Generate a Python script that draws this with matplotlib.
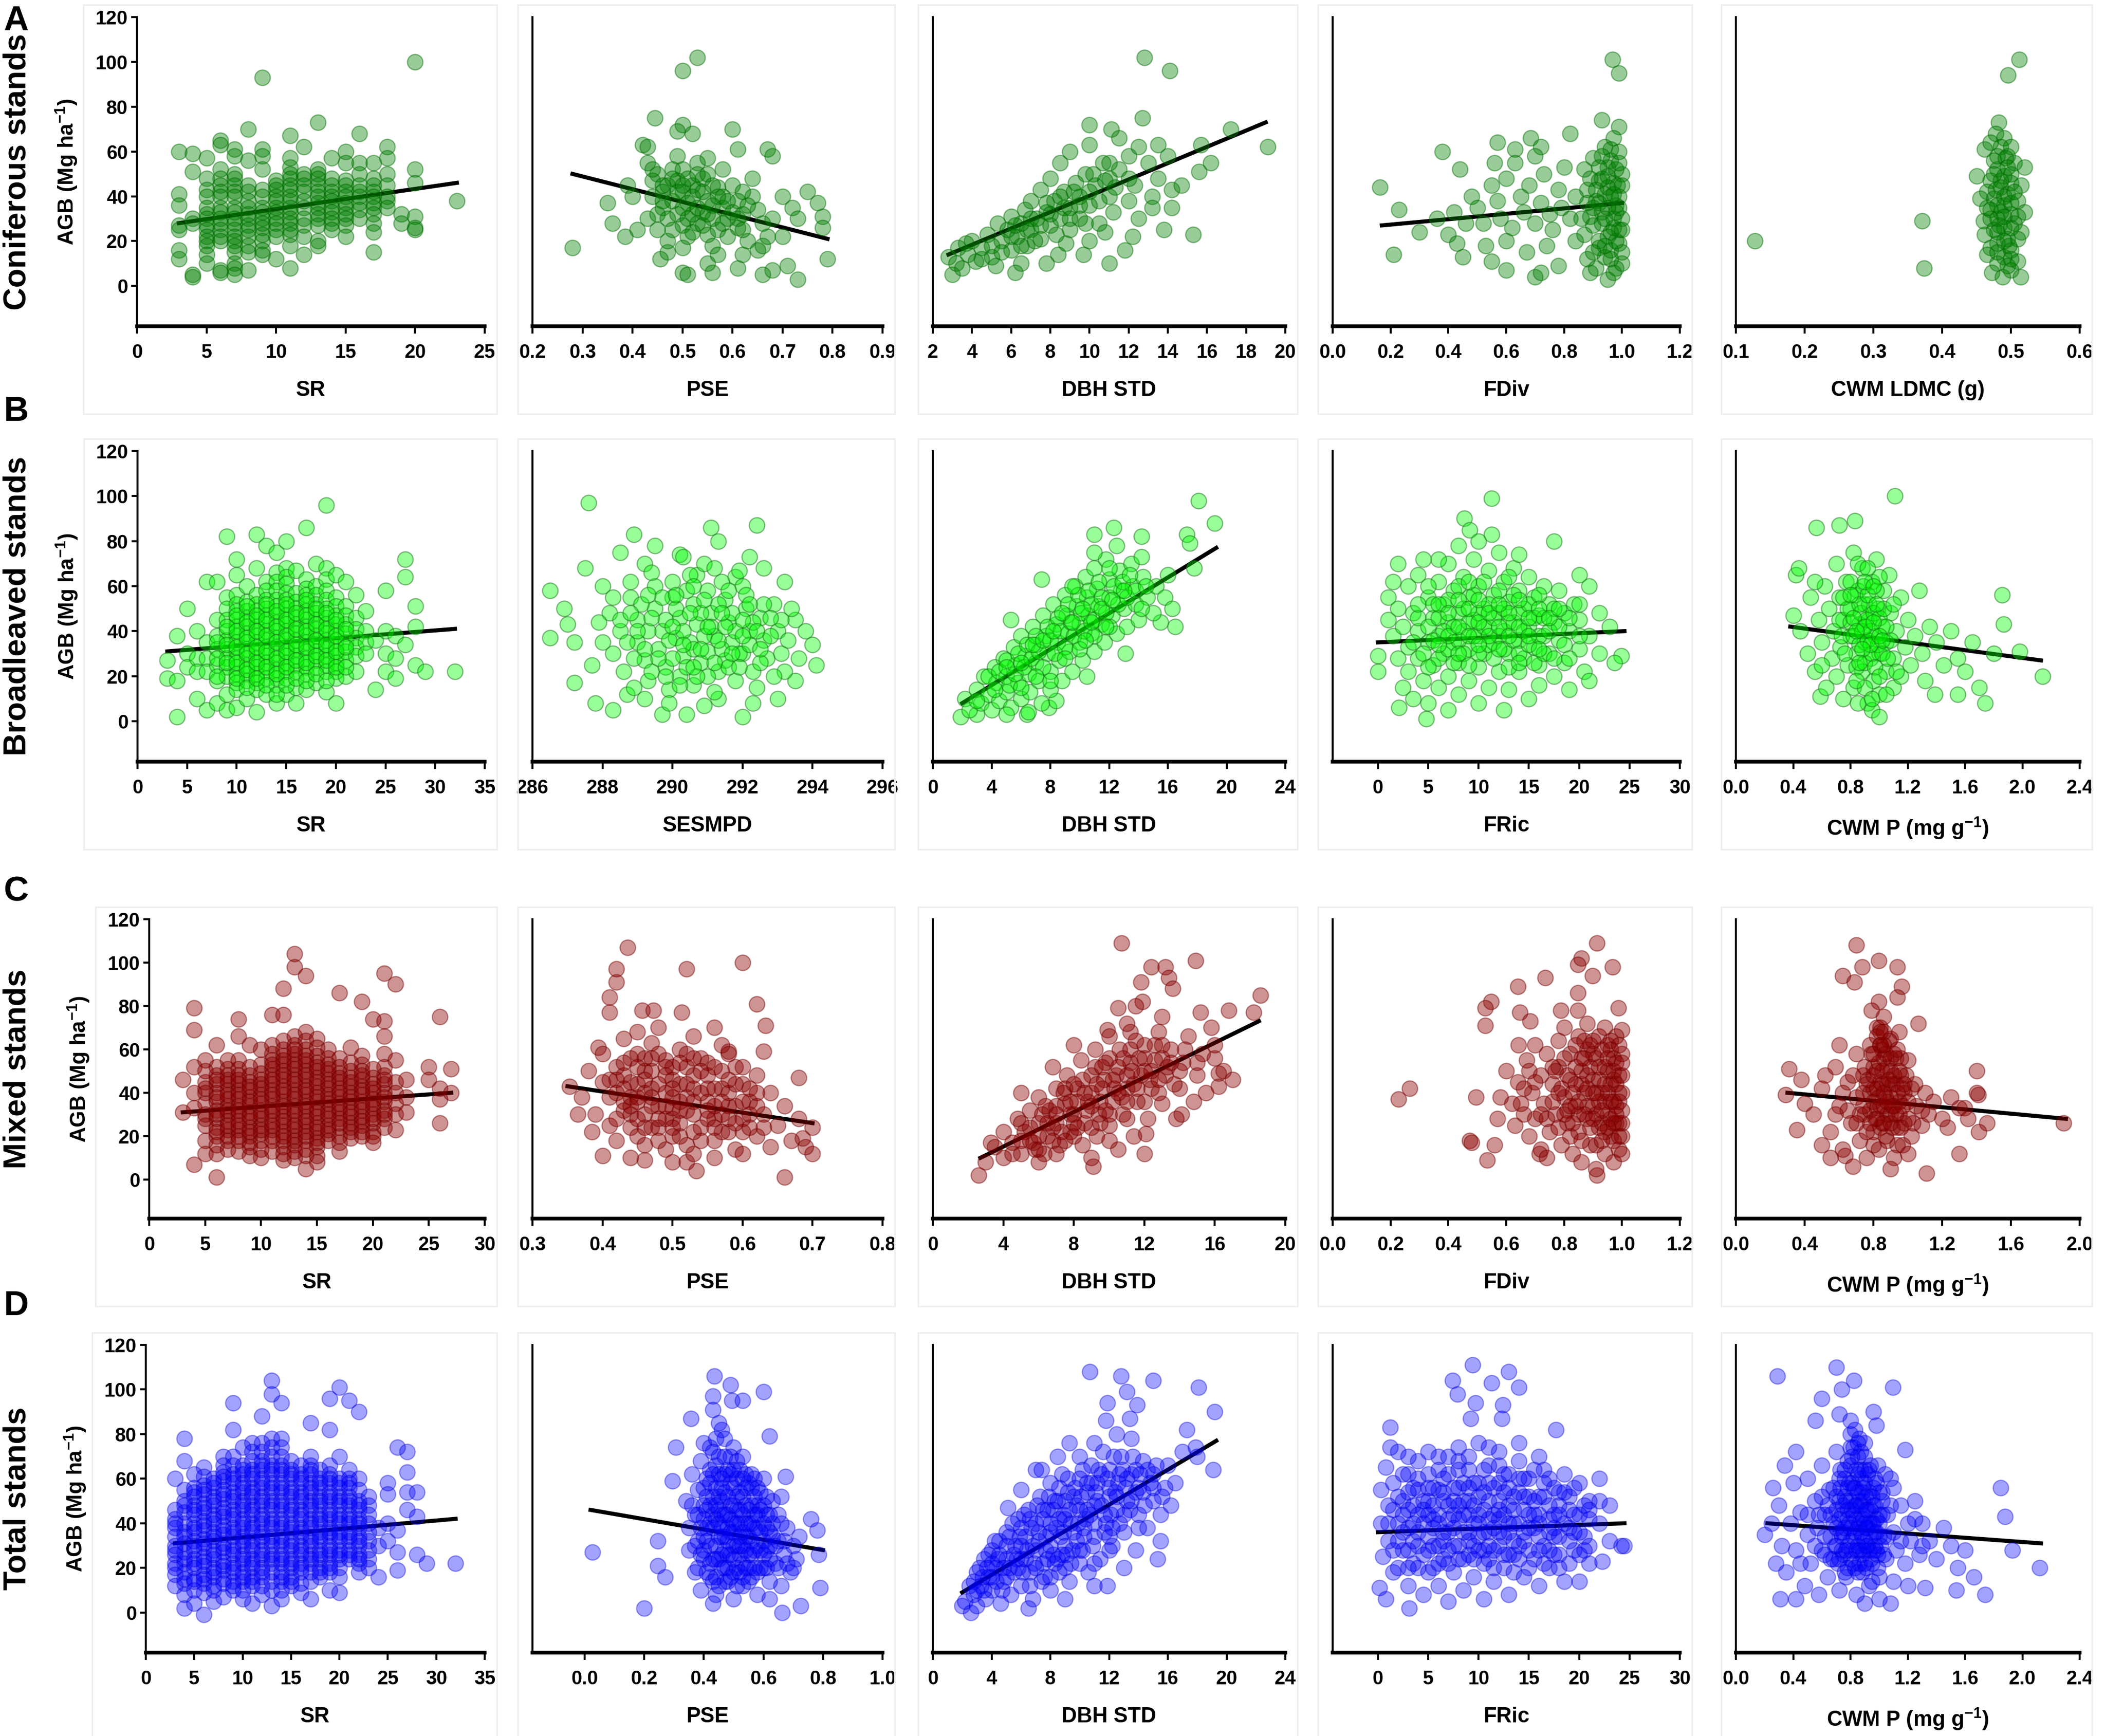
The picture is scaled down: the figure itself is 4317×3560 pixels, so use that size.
import numpy as np
import matplotlib.pyplot as plt
from matplotlib.patches import Rectangle

plt.rcParams["font.family"] = ["Liberation Sans", "DejaVu Sans"]
plt.rcParams["font.weight"] = "bold"
plt.rcParams["mathtext.fontset"] = "custom"
plt.rcParams["mathtext.rm"] = "Liberation Sans:bold"
plt.rcParams["mathtext.bf"] = "Liberation Sans:bold"

# ---------------- data (AGB in Mg/ha against each predictor) ----------------
# species richness panels: {SR value: [AGB values]}
A_SR = {3: [60, 41, 36, 27, 25, 16, 12], 4: [59, 51, 30, 28, 5, 4],
        5: [57, 48, 43, 40, 35, 32, 30, 27, 25, 22, 20, 18, 14, 10],
        6: [65, 63, 52, 48, 45, 42, 40, 35, 33, 30, 28, 25, 22, 20, 7, 6],
        7: [61, 58, 50, 48, 45, 42, 40, 35, 33, 30, 28, 25, 22, 20, 18, 15, 10, 8, 5],
        8: [70, 56, 45, 42, 38, 35, 32, 30, 27, 25, 22, 18, 15, 7],
        9: [93, 61, 58, 52, 43, 40, 35, 33, 30, 28, 26, 23, 20, 16, 14],
        10: [47, 45, 43, 40, 38, 35, 33, 30, 28, 25, 22, 12],
        11: [67, 57, 53, 50, 48, 45, 43, 40, 38, 35, 33, 30, 28, 25, 23, 18, 8],
        12: [62, 50, 48, 45, 42, 38, 35, 30, 27, 22, 14],
        13: [73, 52, 50, 48, 45, 42, 40, 37, 35, 32, 30, 27, 20, 18],
        14: [57, 48, 45, 42, 40, 38, 35, 33, 30, 28, 25],
        15: [60, 55, 47, 45, 42, 40, 37, 35, 32, 30, 27, 22],
        16: [68, 55, 50, 45, 42, 40, 37, 34, 30],
        17: [55, 48, 45, 42, 40, 37, 35, 32, 28, 24, 15],
        18: [62, 57, 50, 45, 40, 38, 35], 19: [32, 28], 20: [100, 52, 46, 31, 26, 25], 23: [38]}

B_SR = {3: [27, 19], 4: [38, 18, 2], 5: [50, 30, 24], 6: [40, 28, 22, 10], 7: [62, 35, 28, 22, 5],
        8: [62, 45, 38, 32, 25, 18, 8], 9: [82, 55, 50, 45, 40, 36, 32, 28, 24, 20, 12, 5],
        10: [72, 65, 56, 52, 49, 45, 42, 38, 35, 31, 28, 24, 21, 17, 14, 6],
        11: [60, 53, 49, 46, 42, 39, 35, 32, 28, 25, 21, 18, 10],
        12: [83, 68, 56, 52, 49, 45, 42, 38, 35, 31, 28, 24, 21, 17, 14, 4],
        13: [78, 62, 58, 54, 50, 47, 43, 40, 36, 33, 29, 26, 22, 19, 12],
        14: [75, 66, 62, 58, 54, 51, 47, 44, 40, 37, 33, 30, 26, 23, 19, 16, 8],
        15: [80, 68, 64, 61, 57, 54, 50, 47, 43, 40, 36, 33, 29, 26, 22, 19, 12],
        16: [67, 57, 53, 50, 46, 43, 39, 36, 32, 29, 25, 22, 15, 8],
        17: [86, 63, 59, 56, 52, 49, 45, 42, 38, 35, 31, 28, 24, 21, 14],
        18: [70, 60, 56, 52, 48, 45, 41, 38, 34, 31, 27, 24, 17],
        19: [96, 68, 63, 58, 54, 50, 46, 43, 39, 36, 32, 29, 25, 22, 13],
        20: [65, 55, 51, 47, 43, 40, 36, 33, 29, 26, 22, 19, 8],
        21: [62, 51, 47, 43, 39, 35, 31, 27, 20], 22: [56, 46, 41, 37, 33, 29, 22],
        23: [49, 40, 35, 30], 24: [36, 14], 25: [58, 40, 30, 22], 26: [38, 28, 19],
        27: [72, 64, 34], 28: [51, 42, 25], 29: [22], 32: [22]}
B_SR_CORE = {8: [35, 28, 20], 9: [42, 34, 26], 10: [47, 40, 33, 26, 19],
             11: [51, 44, 37, 30, 23, 15], 12: [47, 40, 33, 26, 19],
             13: [52, 45, 38, 31, 24, 16], 14: [49, 42, 35, 28, 21, 12],
             15: [52, 45, 38, 31, 24, 16], 16: [48, 41, 34, 27, 19],
             17: [54, 47, 40, 33, 26, 18], 18: [50, 43, 36, 29, 21], 19: [48, 41, 34, 27, 18],
             20: [45, 38, 31, 24], 21: [41, 33, 24]}

C_SR = {3: [46, 31], 4: [79, 69, 52, 40, 33, 7], 5: [55, 45, 40, 35, 30, 25, 12],
        6: [62, 52, 48, 44, 40, 36, 32, 28, 24, 20, 12, 1],
        7: [55, 51, 48, 44, 41, 37, 34, 30, 27, 23, 20, 14],
        8: [74, 66, 55, 51, 48, 44, 41, 37, 34, 30, 27, 23, 20, 13],
        9: [62, 52, 48, 45, 41, 38, 34, 31, 27, 24, 20, 17, 11],
        10: [60, 53, 49, 46, 42, 39, 35, 32, 28, 25, 21, 18, 10],
        11: [76, 62, 58, 55, 51, 48, 44, 41, 37, 34, 30, 27, 23, 20, 13],
        12: [88, 76, 64, 60, 57, 53, 50, 46, 43, 39, 36, 32, 29, 25, 22, 18, 15, 9],
        13: [104, 98, 66, 62, 58, 55, 51, 48, 44, 41, 37, 34, 30, 27, 23, 20, 16, 10],
        14: [94, 68, 64, 60, 57, 53, 50, 46, 43, 39, 36, 32, 29, 25, 22, 18, 11, 5],
        15: [65, 61, 57, 54, 50, 47, 43, 40, 36, 33, 29, 26, 22, 19, 15, 8],
        16: [60, 56, 53, 49, 46, 42, 39, 35, 32, 28, 25, 21, 18],
        17: [86, 56, 52, 49, 45, 42, 38, 35, 31, 28, 24, 20, 13],
        18: [61, 54, 50, 47, 43, 40, 36, 33, 29, 26, 22, 19],
        19: [82, 57, 53, 50, 46, 43, 39, 36, 32, 29, 25, 20],
        20: [74, 51, 47, 44, 40, 37, 33, 30, 26, 22, 17],
        21: [95, 73, 66, 58, 52, 48, 44, 40, 36, 32, 28, 24],
        22: [90, 55, 45, 40, 35, 30, 23], 23: [46, 38, 31], 25: [52, 46], 26: [75, 42, 37, 26],
        27: [51, 40]}
C_SR_CORE = {5: [50, 42, 28, 18], 6: [46, 38, 30, 22, 16], 7: [46, 39, 32, 25, 18],
             8: [46, 39, 32, 25, 18], 9: [43, 36, 29, 22, 15], 10: [44, 37, 30, 23, 14],
             11: [53, 46, 39, 32, 25, 18], 12: [55, 48, 41, 34, 27, 20, 12],
             13: [60, 53, 46, 39, 32, 25, 18, 13], 14: [55, 48, 41, 34, 27, 20, 14],
             15: [52, 45, 38, 31, 24, 17, 11], 16: [51, 44, 37, 30, 23],
             17: [47, 40, 33, 26, 17], 18: [45, 38, 31, 24], 19: [48, 41, 34, 27, 22],
             20: [42, 35, 28, 20], 21: [46, 38, 30]}

D_SR = {3: [60, 46, 42, 38, 34, 30, 26, 22, 17, 12],
        4: [78, 68, 55, 50, 45, 40, 36, 31, 27, 22, 18, 13, 8, 2],
        5: [62, 56, 52, 48, 44, 40, 36, 32, 28, 24, 20, 15, 10, 4],
        6: [65, 61, 57, 53, 49, 45, 41, 37, 33, 29, 25, 21, 17, 13, 9, -1],
        7: [60, 56, 52, 48, 44, 40, 36, 32, 28, 24, 20, 16, 12, 5],
        8: [70, 66, 63, 59, 55, 51, 47, 43, 39, 35, 31, 27, 23, 19, 15, 7],
        9: [94, 82, 70, 66, 62, 58, 54, 50, 46, 42, 38, 34, 30, 26, 22, 18, 14, 10],
        10: [74, 66, 62, 58, 54, 50, 46, 42, 38, 34, 30, 26, 22, 18, 14, 6],
        11: [76, 72, 68, 64, 60, 56, 52, 48, 44, 40, 36, 32, 28, 24, 20, 16, 12, 4],
        12: [88, 76, 72, 68, 64, 60, 56, 52, 48, 44, 40, 36, 32, 28, 24, 20, 16, 8],
        13: [104, 98, 78, 74, 70, 66, 62, 58, 54, 50, 46, 42, 38, 34, 30, 26, 22, 18, 10, 3],
        14: [94, 78, 74, 70, 66, 62, 58, 54, 50, 46, 42, 38, 34, 30, 26, 22, 18, 14, 6],
        15: [68, 64, 60, 56, 52, 48, 44, 40, 36, 32, 28, 24, 20, 16, 12],
        16: [66, 62, 58, 54, 50, 46, 42, 38, 34, 30, 26, 22, 18, 9],
        17: [85, 70, 66, 62, 58, 54, 50, 46, 42, 38, 34, 30, 26, 22, 14, 6],
        18: [64, 60, 56, 52, 48, 44, 40, 36, 32, 28, 24, 20, 16],
        19: [96, 82, 66, 62, 58, 54, 50, 46, 42, 38, 34, 30, 26, 22, 18, 10],
        20: [101, 70, 60, 56, 52, 48, 44, 40, 36, 32, 28, 24, 20, 9],
        21: [95, 64, 60, 56, 52, 48, 44, 40, 36, 32, 28, 24],
        22: [90, 60, 55, 50, 46, 42, 38, 34, 30, 26, 22, 18],
        23: [52, 48, 44, 40, 36, 32, 28, 24, 20], 24: [38, 30, 16], 25: [58, 53, 40, 32],
        26: [74, 37, 27, 19], 27: [72, 63, 54, 46], 28: [54, 43, 26], 29: [22], 32: [22]}
D_SR_CORE = {3: [40, 28, 20], 4: [48, 34, 24, 15], 5: [54, 46, 38, 30, 22, 14],
             6: [55, 47, 39, 31, 23, 15], 7: [58, 50, 42, 34, 26, 18, 10],
             8: [61, 53, 45, 37, 29, 21, 13], 9: [60, 52, 44, 36, 28, 20, 12],
             10: [64, 56, 48, 40, 32, 24, 16, 10], 11: [62, 54, 46, 38, 30, 22, 14],
             12: [66, 58, 50, 42, 34, 26, 18, 12], 13: [64, 56, 48, 40, 32, 24, 14],
             14: [64, 56, 48, 40, 32, 24, 16, 10], 15: [62, 54, 46, 38, 30, 22, 14],
             16: [60, 52, 44, 36, 28, 20, 13], 17: [64, 56, 48, 40, 32, 24, 18],
             18: [58, 50, 42, 34, 26, 18], 19: [60, 52, 44, 36, 28, 20],
             20: [58, 50, 42, 34, 26, 16], 21: [58, 50, 42, 34, 26], 22: [48, 40, 32, 24]}

# other predictors: (x, AGB) pairs
A_PSE = [(0.28, 17), (0.35, 37), (0.36, 28), (0.385, 22), (0.445, 75), (0.50, 96), (0.53, 102),
         (0.455, 12), (0.50, 6), (0.51, 5), (0.56, 6), (0.61, 8), (0.66, 5), (0.68, 7), (0.71, 9),
         (0.73, 3), (0.79, 12), (0.75, 42), (0.77, 37), (0.78, 31), (0.78, 26), (0.60, 70),
         (0.61, 61), (0.67, 61), (0.68, 58), (0.50, 72), (0.49, 69), (0.52, 68), (0.42, 63),
         (0.43, 62), (0.55, 57), (0.58, 52), (0.64, 48), (0.70, 40), (0.72, 35), (0.73, 30),
         (0.70, 22), (0.66, 18), (0.62, 14), (0.55, 10), (0.47, 15), (0.41, 25), (0.39, 45),
         (0.40, 40), (0.43, 55), (0.45, 50), (0.47, 45), (0.44, 40), (0.46, 35), (0.43, 30),
         (0.45, 25), (0.47, 20), (0.49, 58), (0.50, 52), (0.49, 47), (0.50, 42), (0.51, 37),
         (0.49, 32), (0.50, 27), (0.51, 22), (0.50, 17), (0.53, 55), (0.54, 48), (0.53, 43),
         (0.55, 38), (0.54, 33), (0.53, 28), (0.55, 23), (0.56, 18), (0.57, 44), (0.58, 40),
         (0.58, 35), (0.59, 30), (0.57, 25), (0.60, 45), (0.61, 38), (0.62, 32), (0.61, 26),
         (0.63, 20), (0.64, 40), (0.65, 34), (0.66, 28), (0.67, 22), (0.68, 30), (0.52, 32),
         (0.48, 38), (0.46, 42), (0.44, 47), (0.52, 45), (0.56, 30), (0.59, 22), (0.62, 42),
         (0.65, 16), (0.57, 14), (0.44, 52), (0.46, 38), (0.47, 30), (0.48, 52), (0.48, 25),
         (0.49, 42), (0.50, 35), (0.51, 48), (0.51, 30), (0.52, 40), (0.52, 24), (0.53, 50),
         (0.53, 35), (0.54, 42), (0.54, 27), (0.55, 32), (0.56, 45), (0.56, 36), (0.57, 40),
         (0.58, 28), (0.59, 38), (0.60, 33), (0.61, 30), (0.62, 25), (0.63, 36), (0.46, 45),
         (0.45, 32), (0.48, 48), (0.50, 45), (0.55, 50)]

A_DBH = [(2.8, 13), (3, 5), (3.2, 10), (3.3, 17), (3.5, 8), (3.8, 14), (4, 20), (4.2, 11),
         (4.5, 17), (4.8, 23), (5, 13), (5.2, 9), (5.3, 28), (5.5, 20), (5.8, 25), (6, 16),
         (6, 31), (6.2, 6), (6.3, 22), (6.5, 28), (6.7, 34), (6.8, 18), (7, 25), (7, 38),
         (7.3, 30), (7.5, 21), (7.5, 43), (7.8, 33), (8, 27), (8, 48), (8.2, 38), (8.4, 14),
         (8.5, 30), (8.5, 55), (8.7, 42), (9, 35), (9, 25), (9, 60), (9.3, 46), (9.5, 30),
         (9.5, 40), (9.8, 50), (10, 20), (10, 36), (10, 63), (10.3, 45), (10.5, 28), (10.7, 55),
         (11, 40), (11, 48), (11.2, 33), (11.5, 66), (11.5, 52), (11.8, 16), (12, 38), (12, 58),
         (12.3, 45), (12.5, 30), (12.7, 75), (12.8, 102), (13, 55), (13.2, 40), (13.5, 48),
         (13.5, 63), (13.8, 25), (14.1, 96), (14, 58), (14.2, 43), (14.2, 35), (15.3, 23),
         (15.6, 51), (15.7, 63), (16.2, 55), (17.2, 70), (19.1, 62), (12.2, 22), (11, 10),
         (9.7, 14), (7.8, 10), (8.8, 19), (10.8, 24), (12.5, 62), (13.2, 35), (14.7, 45),
         (6.5, 10), (10, 72), (11.1, 70), (5, 18), (5.5, 15), (6, 22), (6.2, 27), (6.5, 18),
         (6.8, 25), (7, 30), (7.2, 20), (7.5, 27), (7.8, 37), (8, 32), (8.3, 23), (8.5, 40),
         (8.7, 35), (9, 30), (9.2, 42), (9.5, 36), (9.8, 28), (10, 42), (10.2, 50), (10.5, 38),
         (10.8, 47), (11, 55), (11.3, 44), (12, 48), (4.5, 12), (3.7, 19)]

A_FDIV = [(0.968, 101), (0.99, 95), (0.163, 44), (0.23, 34), (0.21, 14), (0.38, 60), (0.44, 52),
          (0.57, 64), (0.63, 61), (0.685, 66), (0.72, 62), (0.82, 68), (0.93, 74), (0.99, 71),
          (0.30, 24), (0.36, 30), (0.40, 23), (0.43, 19), (0.45, 13), (0.55, 11), (0.60, 7),
          (0.70, 4), (0.72, 6), (0.78, 9), (0.89, 6), (0.95, 3), (0.98, 8), (0.48, 40), (0.50, 35),
          (0.52, 28), (0.55, 45), (0.57, 38), (0.58, 30), (0.60, 48), (0.62, 26), (0.63, 55),
          (0.65, 40), (0.66, 33), (0.68, 45), (0.70, 28), (0.72, 37), (0.73, 50), (0.75, 32),
          (0.76, 25), (0.78, 43), (0.79, 35), (0.80, 53), (0.82, 30), (0.84, 40), (0.84, 20),
          (0.60, 20), (0.67, 15), (0.74, 18), (0.53, 18), (0.46, 28), (0.42, 33), (0.56, 55),
          (0.70, 58), (0.88, 12), (0.87, 23), (0.89, 31), (0.88, 43), (0.87, 52), (0.91, 8),
          (0.92, 17), (0.90, 27), (0.91, 38), (0.92, 47), (0.90, 57), (0.94, 13), (0.95, 22),
          (0.93, 33), (0.94, 41), (0.95, 53), (0.94, 62), (0.97, 6), (0.96, 16), (0.97, 26),
          (0.98, 36), (0.97, 46), (0.96, 56), (0.97, 66), (1.0, 10), (0.99, 19), (1.0, 30),
          (0.99, 40), (1.0, 50), (0.99, 60), (0.99, 25), (0.96, 40), (0.93, 28), (0.985, 45),
          (0.95, 49), (0.90, 35), (0.98, 33), (0.92, 20), (0.96, 61), (0.89, 48), (1.0, 15),
          (0.93, 58), (0.95, 44), (0.97, 30), (0.92, 37), (0.99, 35), (0.96, 24), (0.94, 18),
          (0.98, 52), (0.91, 43), (1.0, 45), (0.95, 35), (0.97, 41), (0.93, 48), (0.99, 55),
          (0.96, 12), (0.90, 15), (0.98, 20), (1.0, 25), (0.92, 53), (0.94, 30), (0.88, 37),
          (0.86, 30)]

A_LDMC = [(0.128, 20), (0.371, 29), (0.374, 8), (0.512, 101), (0.496, 94), (0.482, 73),
          (0.478, 68), (0.49, 66), (0.485, 62), (0.462, 61), (0.495, 58), (0.475, 56), (0.505, 55),
          (0.52, 53), (0.48, 52), (0.49, 49), (0.45, 49), (0.47, 47), (0.5, 46), (0.515, 45),
          (0.485, 44), (0.465, 42), (0.495, 41), (0.475, 39), (0.455, 39), (0.51, 38), (0.49, 36),
          (0.47, 34), (0.52, 33), (0.5, 32), (0.48, 30), (0.46, 29), (0.505, 28), (0.49, 26),
          (0.475, 25), (0.515, 24), (0.462, 23), (0.495, 21), (0.51, 21), (0.48, 19), (0.47, 17),
          (0.5, 16), (0.465, 14), (0.49, 13), (0.51, 11), (0.48, 10), (0.472, 6), (0.5, 7),
          (0.514, 4), (0.488, 4), (0.485, 33), (0.478, 43), (0.5, 50), (0.492, 57), (0.47, 64),
          (0.5, 62), (0.483, 27), (0.497, 18), (0.48, 36), (0.49, 40), (0.5, 37), (0.47, 30),
          (0.48, 24), (0.5, 26), (0.49, 31), (0.485, 47), (0.495, 53), (0.475, 50), (0.505, 42),
          (0.49, 20), (0.48, 15), (0.5, 12), (0.495, 9), (0.51, 31), (0.465, 35), (0.48, 58)]

B_SES = [(287.6, 97), (286.5, 58), (286.5, 37), (286.9, 50), (287, 43), (287.2, 17), (287.2, 35),
         (287.5, 68), (287.7, 25), (287.8, 8), (288, 60), (288.3, 5), (288.5, 75), (288.9, 83),
         (289.2, 70), (289.5, 78), (289.7, 3), (290.2, 74), (290.4, 3), (290.7, 65), (291.1, 86),
         (291.3, 80), (291.8, 64), (292.2, 73), (292.4, 87), (292.6, 68), (293.2, 62), (293.5, 45),
         (293.8, 40), (294, 34), (294.1, 25), (293.5, 18), (293, 10), (292.3, 8), (292, 2),
         (291.3, 10), (290.9, 7), (289.2, 10), (288.7, 12), (288.2, 48), (288.5, 40), (288.3, 30),
         (288.6, 22), (288.8, 55), (289, 45), (289, 35), (289.2, 27), (289.3, 18), (289.5, 60),
         (289.5, 50), (289.7, 40), (289.6, 32), (289.8, 24), (289.9, 14), (290, 55), (290.2, 46),
         (290.1, 37), (290.3, 29), (290.2, 20), (290.5, 65), (290.6, 52), (290.7, 43), (290.5, 35),
         (290.8, 26), (290.6, 16), (291, 58), (291.1, 48), (291.2, 38), (291, 31), (291.3, 22),
         (291.2, 13), (291.5, 54), (291.6, 44), (291.7, 35), (291.5, 27), (291.8, 18), (292, 60),
         (292.1, 50), (292.2, 40), (292, 30), (292.3, 22), (292.5, 46), (292.6, 36), (292.7, 28),
         (292.4, 15), (292.9, 52), (293, 40), (293.1, 30), (293.2, 22), (289.4, 66), (290.9, 70),
         (290.3, 73), (289.9, 8), (288.9, 15), (288, 35), (287.9, 44), (293.6, 28), (291.9, 67),
         (290, 62), (288.7, 35), (288.9, 28), (289.1, 52), (289.3, 40), (289.4, 22), (289.8, 45),
         (289.9, 36), (290, 28), (290.1, 50), (290.3, 40), (290.4, 58), (290.4, 24), (290.6, 32),
         (290.8, 48), (290.9, 38), (291, 20), (291.1, 42), (291.3, 52), (291.4, 32), (291.4, 62),
         (291.6, 24), (291.7, 48), (291.8, 40), (291.9, 30), (292.1, 56), (292.2, 34), (292.3, 44),
         (292.5, 26), (292.6, 52), (292.8, 38), (292.9, 20), (293.1, 45), (293.3, 36), (293.4, 50),
         (290.2, 16), (289.7, 55), (289.2, 32), (288.5, 45), (288.3, 55), (288.8, 62), (290.6, 60),
         (291.2, 68), (291.5, 42), (290.7, 20), (292, 45), (289, 40), (289.4, 46), (289.6, 28),
         (290, 42), (290.3, 34), (290.5, 48), (290.8, 32), (291, 42), (291.2, 26), (291.4, 48),
         (291.7, 30), (292, 38), (292.2, 52), (292.5, 32), (292.8, 46), (290.1, 56), (290.9, 54),
         (291.6, 58), (289.8, 20), (291.9, 24), (289.3, 56), (290.6, 24), (292.4, 40), (288.8, 48),
         (291.3, 36)]

B_DBH = [(18.1, 98), (19.2, 88), (17.3, 83), (17.5, 79), (17.8, 68), (16.5, 42), (15.5, 44),
         (11, 83), (12.3, 86), (14.2, 82), (7.4, 63), (5.3, 45), (1.9, 2), (3, 3), (6.4, 3),
         (7.9, 6), (8.4, 9), (2.2, 10), (2.5, 5), (3, 14), (3.3, 8), (3.5, 20), (3.8, 12), (4, 5),
         (4.2, 24), (4.3, 17), (4.5, 9), (4.8, 28), (5, 20), (5, 13), (5.3, 6), (5.5, 33),
         (5.6, 25), (5.8, 17), (6, 10), (6, 38), (6.3, 29), (6.5, 21), (6.6, 13), (6.8, 42),
         (7, 34), (7, 26), (7.2, 18), (7.4, 8), (7.5, 47), (7.7, 38), (7.8, 30), (8, 22), (8, 14),
         (8.2, 52), (8.4, 43), (8.5, 35), (8.6, 27), (8.8, 18), (9, 56), (9.1, 47), (9.2, 39),
         (9.3, 31), (9.5, 22), (9.7, 60), (9.8, 51), (10, 43), (10, 35), (10.2, 27), (10.4, 64),
         (10.5, 55), (10.6, 47), (10.8, 39), (11, 31), (11, 68), (11.2, 59), (11.3, 51), (11.5, 43),
         (11.7, 35), (11.8, 72), (12, 63), (12, 55), (12.2, 47), (12.5, 39), (12.7, 67), (12.8, 58),
         (13, 50), (13.2, 42), (13.5, 70), (13.6, 60), (13.8, 52), (14, 45), (14.3, 64), (14.6, 55),
         (15, 48), (15.2, 60), (15.8, 55), (16.3, 50), (16, 65), (14.2, 73), (12.5, 78), (11, 75),
         (13.1, 30), (10.5, 20), (6.5, 4), (5, 3), (3, 9), (3.8, 20), (4.2, 14), (4.5, 22), (5, 27),
         (5.2, 16), (5.6, 21), (5.8, 30), (6.2, 24), (6.4, 34), (6.7, 28), (7, 38), (7.2, 31),
         (7.5, 24), (7.8, 42), (8, 36), (8.3, 30), (8.5, 46), (8.7, 40), (9, 33), (9.2, 52),
         (9.4, 44), (9.6, 38), (9.9, 56), (10.1, 48), (10.3, 40), (10.6, 58), (10.8, 52), (11, 45),
         (11.3, 62), (11.5, 55), (11.8, 48), (12, 68), (12.3, 60), (12.6, 52), (12.9, 62),
         (13.2, 55), (13.4, 65), (13.8, 58), (14.2, 50), (14.5, 60), (9.5, 60), (10, 32), (11, 38),
         (12, 42), (8, 18), (7, 20), (6, 15), (5, 24), (6, 26), (6.8, 34), (7.5, 36), (8.2, 40),
         (8.8, 48), (9.5, 44), (10.2, 50), (10.8, 44), (11.5, 50), (12.2, 54), (13, 58), (9, 28),
         (10.4, 36), (11.8, 42)]

B_FRIC = [(11.3, 99), (8.6, 90), (9.1, 85), (11.3, 83), (17.5, 80), (0, 29), (0, 22), (24.2, 29),
          (23.5, 26), (2.1, 6), (4.8, 1), (1, 45), (1, 55), (1.5, 38), (1.5, 62), (2, 28), (2, 50),
          (2.5, 15), (2.5, 42), (3, 60), (3, 33), (3, 22), (3.5, 10), (3.5, 48), (4, 40), (4, 65),
          (4, 28), (4.5, 18), (5, 55), (5, 35), (5, 8), (5.5, 46), (5.5, 25), (6, 62), (6, 38),
          (6, 15), (6.5, 52), (6.5, 30), (7, 70), (7, 44), (7, 20), (7, 5), (7.5, 58), (7.5, 35),
          (8, 48), (8, 26), (8, 12), (8.5, 64), (8.5, 40), (9, 55), (9, 32), (9, 18), (9.5, 72),
          (9.5, 45), (10, 60), (10, 38), (10, 24), (10, 8), (10.5, 50), (10.5, 30), (11, 67),
          (11, 42), (11, 15), (11.5, 56), (11.5, 35), (12, 75), (12, 48), (12, 22), (12.5, 62),
          (12.5, 40), (12.5, 5), (13, 53), (13, 30), (13, 14), (13.5, 68), (13.5, 44), (14, 58),
          (14, 36), (14, 22), (14.5, 50), (14.5, 28), (15, 64), (15, 42), (15, 10), (15.5, 55),
          (15.5, 33), (16, 47), (16, 25), (16, 16), (16.5, 60), (16.5, 38), (17, 52), (17, 30),
          (17.5, 44), (17.5, 20), (18, 58), (18, 36), (18.5, 48), (18.5, 26), (19, 40), (19, 14),
          (19.5, 52), (20, 32), (20, 45), (20.5, 22), (21, 38), (21, 60), (22, 30), (22, 48),
          (23, 42), (6, 72), (8, 78), (10, 80), (14, 74), (4.5, 72), (2, 70), (20, 65), (21, 18),
          (3.5, 35), (4, 46), (4.5, 30), (5, 42), (5.5, 52), (5.5, 36), (6, 28), (6, 46), (6.5, 40),
          (7, 32), (7, 54), (7.5, 42), (7.5, 26), (8, 36), (8, 60), (8.5, 30), (8.5, 50), (9, 44),
          (9, 25), (9.5, 38), (9.5, 56), (10, 30), (10, 48), (10.5, 42), (10.5, 62), (11, 34),
          (11, 52), (11.5, 28), (11.5, 46), (12, 38), (12, 58), (12.5, 32), (12.5, 50), (13, 44),
          (13, 24), (13.5, 36), (13.5, 56), (14, 30), (14, 48), (14.5, 40), (15, 34), (15, 52),
          (15.5, 46), (15.5, 26), (16, 38), (16, 56), (16.5, 30), (16.5, 46), (17, 40), (17.5, 50),
          (17.5, 28), (18, 42), (18.5, 34), (19, 46), (19, 28), (20, 38), (20, 52), (5, 60),
          (9, 62), (13, 64), (4, 52), (5, 24), (6, 52), (7, 38), (7, 48), (8, 42), (8, 54), (9, 38),
          (9, 50), (10, 44), (10, 54), (11, 38), (11, 48), (12, 42), (12, 32), (13, 48), (13, 38),
          (14, 42), (14, 54), (15, 46), (15, 38), (16, 50), (16, 32), (17, 46), (18, 50), (12, 52),
          (10, 34), (14, 26), (6, 34), (8, 30)]

B_P = [(1.11, 100), (0.56, 86), (0.72, 87), (0.83, 89), (0.42, 65), (0.44, 68), (1.86, 56),
       (1.87, 43), (2.14, 20), (1.74, 8), (1.98, 31), (1.39, 12), (1.55, 12), (0.40, 47),
       (0.59, 11), (0.45, 40), (0.5, 30), (0.52, 55), (0.55, 22), (0.58, 45), (0.6, 35), (0.62, 60),
       (0.63, 15), (0.65, 50), (0.67, 28), (0.68, 40), (0.7, 70), (0.7, 20), (0.72, 55), (0.73, 33),
       (0.75, 45), (0.75, 10), (0.77, 62), (0.78, 25), (0.8, 38), (0.8, 50), (0.82, 75), (0.82, 15),
       (0.84, 30), (0.85, 58), (0.86, 43), (0.88, 22), (0.88, 68), (0.9, 35), (0.9, 52), (0.92, 8),
       (0.93, 45), (0.94, 28), (0.95, 62), (0.96, 18), (0.97, 38), (0.98, 72), (0.99, 50),
       (1.0, 30), (1.0, 12), (1.02, 42), (1.03, 58), (1.05, 22), (1.05, 35), (1.07, 65), (1.08, 48),
       (1.1, 15), (1.1, 28), (1.12, 40), (1.15, 55), (1.15, 20), (1.18, 33), (1.2, 45), (1.22, 25),
       (1.25, 38), (1.28, 58), (1.3, 30), (1.32, 18), (1.35, 42), (1.4, 35), (1.45, 25), (1.5, 40),
       (1.55, 28), (1.6, 22), (1.65, 35), (1.7, 15), (1.8, 30), (0.95, 5), (1.0, 2), (0.85, 8),
       (0.6, 25), (0.55, 62), (0.72, 45), (0.74, 38), (0.76, 30), (0.78, 50), (0.8, 44), (0.82, 38),
       (0.83, 56), (0.84, 24), (0.86, 34), (0.87, 48), (0.88, 40), (0.89, 60), (0.9, 26), (0.91, 45),
       (0.92, 36), (0.93, 52), (0.94, 40), (0.95, 30), (0.96, 48), (0.97, 24), (0.98, 58),
       (0.99, 34), (1.0, 46), (1.0, 64), (1.02, 30), (1.03, 50), (1.05, 42), (1.06, 28), (1.08, 36),
       (1.1, 52), (1.12, 22), (0.85, 70), (0.92, 68), (0.8, 62), (0.75, 55), (0.9, 15), (0.84, 18),
       (1.0, 20), (0.95, 10), (1.05, 12), (0.82, 46), (0.86, 52), (0.9, 42), (0.92, 56), (0.94, 34),
       (0.96, 44), (0.98, 52), (1.0, 38), (0.88, 32), (0.84, 40), (0.8, 56), (1.02, 36), (0.9, 62),
       (0.96, 60), (0.86, 26)]

C_PSE = [(0.436, 107), (0.42, 97), (0.42, 91), (0.41, 84), (0.41, 77), (0.457, 78), (0.473, 78),
         (0.513, 77), (0.52, 97), (0.60, 100), (0.62, 81), (0.633, 71), (0.63, 59), (0.68, 47),
         (0.66, 1), (0.40, 11), (0.46, 9), (0.534, 4), (0.52, 8), (0.70, 12), (0.686, 19),
         (0.70, 24), (0.353, 43), (0.365, 30), (0.385, 22), (0.394, 61), (0.56, 70), (0.58, 59),
         (0.37, 38), (0.38, 50), (0.39, 30), (0.4, 45), (0.4, 58), (0.41, 25), (0.41, 38),
         (0.42, 52), (0.42, 18), (0.43, 65), (0.43, 32), (0.44, 45), (0.44, 24), (0.45, 58),
         (0.45, 38), (0.46, 16), (0.46, 30), (0.46, 50), (0.47, 63), (0.47, 42), (0.48, 24),
         (0.48, 34), (0.49, 55), (0.49, 14), (0.5, 46), (0.5, 28), (0.5, 38), (0.51, 60),
         (0.51, 20), (0.52, 52), (0.52, 32), (0.53, 42), (0.53, 12), (0.54, 24), (0.54, 56),
         (0.55, 36), (0.55, 48), (0.56, 18), (0.56, 28), (0.57, 62), (0.57, 42), (0.58, 34),
         (0.58, 22), (0.59, 52), (0.59, 14), (0.6, 44), (0.6, 28), (0.61, 36), (0.62, 20),
         (0.62, 48), (0.63, 30), (0.64, 40), (0.64, 15), (0.65, 25), (0.66, 34), (0.67, 18),
         (0.68, 28), (0.69, 15), (0.45, 68), (0.48, 70), (0.53, 66), (0.58, 58), (0.44, 10),
         (0.5, 8), (0.56, 10), (0.6, 12), (0.41, 46), (0.42, 40), (0.42, 28), (0.43, 48), (0.43, 36),
         (0.44, 56), (0.44, 30), (0.45, 44), (0.45, 20), (0.46, 40), (0.46, 56), (0.47, 34),
         (0.47, 24), (0.47, 50), (0.48, 44), (0.48, 58), (0.48, 18), (0.49, 40), (0.49, 28),
         (0.5, 52), (0.5, 33), (0.5, 20), (0.51, 44), (0.51, 26), (0.52, 38), (0.52, 58), (0.52, 16),
         (0.53, 30), (0.53, 48), (0.54, 40), (0.54, 18), (0.55, 28), (0.55, 54), (0.56, 42),
         (0.56, 34), (0.57, 22), (0.57, 50), (0.58, 40), (0.58, 28), (0.59, 34), (0.59, 44),
         (0.6, 22), (0.6, 52), (0.61, 30), (0.62, 40), (0.63, 24), (0.45, 52), (0.49, 48),
         (0.53, 56), (0.44, 38), (0.51, 36), (0.46, 24), (0.42, 46), (0.43, 42), (0.44, 34),
         (0.45, 28), (0.46, 46), (0.47, 38), (0.48, 28), (0.49, 52), (0.5, 42), (0.5, 24),
         (0.51, 32), (0.52, 44), (0.53, 36), (0.53, 22), (0.54, 50), (0.55, 42), (0.55, 32),
         (0.56, 24), (0.57, 36), (0.58, 46), (0.59, 26), (0.6, 36), (0.61, 42), (0.62, 34),
         (0.47, 56), (0.43, 54), (0.51, 54), (0.56, 52), (0.49, 34), (0.45, 36), (0.57, 30),
         (0.61, 24)]

C_DBH = [(10.7, 109), (14.9, 101), (12.4, 98), (13.2, 98), (11.8, 91), (13.4, 93), (13.6, 88),
         (18.6, 85), (11.9, 82), (10.5, 79), (15.2, 77), (16.8, 78), (18.2, 77), (9.9, 69),
         (11.2, 68), (15.8, 70), (2.6, 2), (9.1, 6), (12, 12), (12.1, 21), (14.1, 30), (16.2, 43),
         (16, 56), (16.2, 49), (3.3, 17), (3.5, 15), (4, 10), (4, 22), (4.5, 17), (4.8, 28),
         (5, 12), (5.2, 22), (5.5, 32), (5.7, 17), (6, 26), (6, 38), (6.3, 12), (6.5, 20),
         (6.6, 32), (7, 42), (7, 26), (7.2, 16), (7.5, 35), (7.6, 48), (7.8, 22), (8, 30),
         (8.2, 42), (8.4, 55), (8.5, 16), (8.6, 26), (8.8, 36), (9, 48), (9.2, 60), (9.3, 20),
         (9.4, 30), (9.6, 42), (9.8, 54), (10, 66), (10, 25), (10.2, 36), (10.4, 48), (10.6, 60),
         (10.8, 30), (11, 42), (11, 72), (11.2, 54), (11.4, 20), (11.6, 36), (11.8, 48), (12, 62),
         (12.2, 28), (12.4, 42), (12.6, 55), (12.8, 68), (13, 35), (13.2, 48), (13.5, 60),
         (13.8, 28), (14, 42), (14.2, 54), (14.5, 66), (14.8, 36), (15, 48), (15.3, 58), (15.5, 40),
         (16, 62), (16.5, 50), (17, 46), (13, 75), (11.5, 80), (8, 62), (6.8, 52), (5, 40), (9, 10),
         (10.5, 14), (3, 8), (4.5, 12), (5, 18), (5.5, 24), (5.8, 14), (6.2, 30), (6.5, 26),
         (6.8, 18), (7, 34), (7.3, 22), (7.5, 42), (7.8, 30), (8, 26), (8.2, 36), (8.5, 46),
         (8.7, 32), (9, 40), (9, 24), (9.2, 52), (9.5, 36), (9.7, 46), (10, 56), (10, 30),
         (10.3, 42), (10.5, 52), (10.7, 38), (11, 48), (11.2, 60), (11.4, 44), (11.7, 56), (12, 36),
         (12, 50), (12.3, 46), (12.6, 62), (12.8, 40), (13, 56), (13.3, 52), (13.7, 44), (14, 50),
         (14.3, 60), (15, 54), (8, 20), (10, 18), (7, 12), (6, 8), (11, 28), (5, 26), (5.5, 18),
         (6, 20), (6.4, 34), (6.8, 24), (7, 30), (7.4, 40), (7.8, 36), (8, 44), (8.2, 24),
         (8.6, 40), (9, 34), (9.3, 44), (9.6, 52), (9.8, 32), (10.2, 46), (10.5, 40), (10.8, 56),
         (11, 36), (11.3, 50), (11.6, 42), (12, 56), (12.4, 50), (12.8, 46), (13, 62), (13.5, 54),
         (7.5, 18), (9.5, 26), (6, 14), (11.5, 64)]

C_FDIV = [(0.227, 37), (0.267, 42), (0.914, 109), (0.86, 102), (0.968, 98), (0.847, 99),
          (0.735, 93), (0.898, 94), (0.64, 89), (0.847, 86), (0.548, 82), (0.527, 79), (0.789, 78),
          (0.847, 78), (0.987, 79), (0.647, 77), (0.682, 73), (0.527, 71), (0.642, 62), (1.0, 69),
          (0.495, 38), (0.473, 18), (0.48, 17), (0.535, 9), (0.56, 16), (0.714, 12), (0.914, 2),
          (0.91, 5), (0.6, 50), (0.62, 35), (0.63, 25), (0.64, 45), (0.66, 30), (0.67, 55),
          (0.68, 20), (0.69, 40), (0.7, 62), (0.7, 28), (0.72, 48), (0.72, 14), (0.73, 35),
          (0.74, 58), (0.75, 22), (0.76, 44), (0.77, 30), (0.78, 64), (0.78, 52), (0.79, 16),
          (0.8, 38), (0.81, 26), (0.82, 58), (0.82, 46), (0.83, 12), (0.84, 34), (0.85, 66),
          (0.85, 22), (0.86, 50), (0.87, 40), (0.88, 28), (0.88, 60), (0.89, 16), (0.9, 46),
          (0.9, 34), (0.91, 56), (0.92, 24), (0.92, 66), (0.93, 40), (0.94, 12), (0.94, 52),
          (0.95, 30), (0.95, 62), (0.96, 20), (0.96, 44), (0.97, 36), (0.97, 56), (0.98, 26),
          (0.98, 66), (0.99, 14), (0.99, 48), (1.0, 32), (1.0, 58), (1.0, 40), (1.0, 20),
          (0.94, 70), (0.88, 72), (0.8, 70), (0.66, 42), (0.58, 38), (0.57, 28), (0.74, 10),
          (0.86, 8), (0.97, 8), (0.76, 36), (0.77, 50), (0.78, 24), (0.79, 42), (0.8, 56),
          (0.81, 32), (0.82, 20), (0.83, 40), (0.84, 52), (0.85, 30), (0.86, 44), (0.86, 18),
          (0.87, 56), (0.88, 34), (0.88, 48), (0.89, 24), (0.9, 40), (0.9, 58), (0.91, 30),
          (0.91, 16), (0.92, 46), (0.93, 26), (0.93, 60), (0.94, 36), (0.94, 22), (0.95, 50),
          (0.95, 40), (0.96, 28), (0.96, 64), (0.97, 46), (0.97, 18), (0.98, 34), (0.98, 54),
          (0.99, 26), (0.99, 40), (1.0, 48), (1.0, 26), (1.0, 12), (0.99, 62), (0.97, 26),
          (0.92, 36), (0.89, 62), (0.84, 62), (0.7, 45), (0.72, 30), (0.68, 50), (0.65, 35),
          (0.74, 28), (0.78, 40), (0.8, 30), (0.81, 48), (0.83, 26), (0.84, 44), (0.85, 36),
          (0.86, 56), (0.87, 30), (0.88, 42), (0.89, 52), (0.9, 28), (0.91, 40), (0.92, 52),
          (0.93, 32), (0.94, 44), (0.95, 24), (0.95, 56), (0.96, 36), (0.97, 50), (0.98, 30),
          (0.98, 44), (0.99, 36), (1.0, 54), (0.99, 20), (0.93, 18), (0.87, 64), (0.9, 64),
          (0.96, 60), (0.82, 34), (0.76, 52)]

C_P = [(0.70, 108), (0.83, 101), (0.734, 98), (0.94, 98), (0.62, 94), (0.69, 91), (0.964, 89),
       (0.94, 84), (0.83, 82), (0.79, 78), (1.06, 72), (0.31, 51), (0.29, 39), (1.40, 50),
       (1.41, 39), (1.46, 26), (1.414, 22), (1.905, 26), (1.11, 3), (1.30, 12), (0.356, 23),
       (0.5, 16), (0.635, 11), (0.52, 48), (1.33, 33), (1.23, 24), (0.45, 30), (0.5, 42),
       (0.55, 22), (0.58, 52), (0.6, 34), (0.62, 14), (0.65, 45), (0.67, 26), (0.7, 58), (0.7, 38),
       (0.72, 18), (0.74, 48), (0.75, 30), (0.76, 10), (0.78, 62), (0.78, 40), (0.8, 22), (0.8, 52),
       (0.82, 70), (0.82, 33), (0.83, 14), (0.84, 45), (0.85, 60), (0.85, 26), (0.86, 75),
       (0.87, 38), (0.88, 52), (0.88, 18), (0.9, 30), (0.9, 65), (0.91, 44), (0.92, 10), (0.93, 56),
       (0.94, 24), (0.95, 36), (0.96, 48), (0.97, 16), (0.98, 40), (1.0, 28), (1.0, 55), (1.02, 20),
       (1.04, 44), (1.05, 34), (1.08, 25), (1.1, 40), (1.12, 30), (1.15, 36), (1.2, 28), (1.25, 38),
       (1.3, 33), (1.35, 28), (1.4, 40), (0.4, 35), (0.38, 46), (0.68, 6), (0.9, 5), (0.6, 62),
       (0.95, 68), (1.0, 12), (0.55, 10), (0.72, 30), (0.74, 40), (0.75, 52), (0.76, 22),
       (0.77, 46), (0.78, 32), (0.79, 58), (0.8, 42), (0.8, 16), (0.81, 28), (0.82, 50), (0.83, 38),
       (0.84, 62), (0.84, 24), (0.85, 44), (0.86, 34), (0.86, 56), (0.87, 20), (0.88, 44),
       (0.88, 30), (0.89, 64), (0.9, 38), (0.9, 50), (0.91, 24), (0.92, 34), (0.92, 58), (0.93, 44),
       (0.94, 16), (0.95, 30), (0.96, 56), (0.97, 42), (0.98, 26), (0.99, 48), (1.0, 36),
       (1.02, 42), (1.03, 26), (0.65, 32), (0.68, 48), (0.7, 26), (0.62, 40), (0.84, 70),
       (0.82, 66), (0.86, 68), (0.58, 30), (1.08, 32), (0.74, 34), (0.76, 44), (0.78, 26),
       (0.8, 36), (0.8, 48), (0.82, 28), (0.82, 42), (0.83, 54), (0.84, 34), (0.85, 50), (0.86, 40),
       (0.86, 26), (0.87, 58), (0.88, 36), (0.89, 46), (0.9, 26), (0.9, 56), (0.91, 34), (0.92, 48),
       (0.93, 30), (0.94, 40), (0.95, 50), (0.96, 24), (0.97, 34), (0.98, 44), (0.84, 62),
       (0.86, 62), (0.84, 68), (0.8, 58), (0.94, 60)]

D_PSE = [(0.027, 27), (0.2, 2), (0.435, 106), (0.49, 102), (0.60, 99), (0.43, 97), (0.495, 95),
         (0.53, 95), (0.43, 91), (0.62, 79), (0.357, 87), (0.45, 85), (0.306, 74), (0.295, 59),
         (0.674, 61), (0.76, 42), (0.78, 37), (0.786, 26), (0.79, 11), (0.725, 3), (0.663, 0),
         (0.245, 32), (0.245, 21), (0.27, 16), (0.34, 50), (0.35, 38), (0.35, 28), (0.36, 62),
         (0.37, 18), (0.37, 44), (0.38, 55), (0.38, 32), (0.39, 10), (0.39, 68), (0.4, 24),
         (0.4, 48), (0.41, 38), (0.41, 60), (0.42, 16), (0.42, 30), (0.43, 52), (0.43, 72),
         (0.44, 42), (0.44, 8), (0.45, 24), (0.45, 62), (0.46, 34), (0.46, 50), (0.47, 14),
         (0.47, 78), (0.48, 44), (0.48, 26), (0.49, 58), (0.49, 36), (0.5, 6), (0.5, 18), (0.5, 48),
         (0.51, 68), (0.51, 30), (0.52, 40), (0.52, 54), (0.53, 12), (0.53, 22), (0.54, 62),
         (0.54, 34), (0.55, 46), (0.55, 26), (0.56, 16), (0.56, 56), (0.57, 38), (0.58, 8),
         (0.58, 30), (0.58, 48), (0.59, 20), (0.6, 40), (0.6, 60), (0.61, 28), (0.62, 14),
         (0.62, 36), (0.63, 50), (0.64, 22), (0.65, 32), (0.65, 44), (0.66, 12), (0.67, 26),
         (0.68, 38), (0.69, 18), (0.7, 30), (0.71, 24), (0.72, 34), (0.44, 66), (0.5, 74),
         (0.4, 76), (0.46, 82), (0.53, 70), (0.38, 20), (0.43, 4), (0.62, 6), (0.66, 52),
         (0.38, 44), (0.39, 38), (0.39, 26), (0.4, 56), (0.4, 34), (0.41, 18), (0.41, 46),
         (0.42, 64), (0.42, 40), (0.43, 24), (0.43, 44), (0.44, 56), (0.44, 30), (0.44, 16),
         (0.45, 40), (0.45, 52), (0.45, 70), (0.46, 26), (0.46, 44), (0.46, 60), (0.47, 34),
         (0.47, 20), (0.47, 54), (0.48, 64), (0.48, 38), (0.48, 14), (0.49, 48), (0.49, 26),
         (0.49, 70), (0.5, 40), (0.5, 56), (0.5, 30), (0.51, 20), (0.51, 46), (0.51, 60), (0.52, 34),
         (0.52, 26), (0.52, 64), (0.53, 44), (0.53, 52), (0.53, 30), (0.54, 20), (0.54, 40),
         (0.55, 58), (0.55, 34), (0.55, 14), (0.56, 48), (0.56, 26), (0.57, 44), (0.57, 20),
         (0.58, 38), (0.58, 56), (0.59, 28), (0.59, 46), (0.6, 20), (0.6, 32), (0.61, 44),
         (0.61, 52), (0.62, 24), (0.63, 40), (0.64, 30), (0.65, 20), (0.66, 40), (0.67, 32),
         (0.42, 74), (0.47, 70), (0.44, 78), (0.36, 48), (0.37, 30), (0.57, 60), (0.68, 22),
         (0.7, 20)]
D_PSE_CORE = [(0.40, 42), (0.40, 28), (0.41, 52), (0.41, 32), (0.42, 22), (0.42, 48), (0.42, 58),
              (0.43, 38), (0.43, 14), (0.43, 62), (0.44, 48), (0.44, 24), (0.45, 34), (0.45, 46),
              (0.45, 12), (0.46, 56), (0.46, 38), (0.46, 20), (0.47, 44), (0.47, 62), (0.47, 28),
              (0.48, 52), (0.48, 32), (0.48, 20), (0.49, 42), (0.49, 62), (0.49, 16), (0.5, 24),
              (0.5, 36), (0.5, 64), (0.51, 52), (0.51, 40), (0.51, 12), (0.52, 46), (0.52, 18),
              (0.52, 30), (0.53, 36), (0.53, 60), (0.53, 16), (0.54, 48), (0.54, 28), (0.54, 56),
              (0.55, 40), (0.55, 20), (0.56, 32), (0.56, 62), (0.56, 40), (0.57, 28), (0.57, 52),
              (0.58, 18), (0.58, 44), (0.59, 36), (0.59, 54), (0.6, 26), (0.6, 48), (0.61, 20),
              (0.61, 38), (0.62, 30), (0.62, 44), (0.63, 34)]

D_DBH = [(10.7, 108), (12.8, 106), (15, 104), (18.1, 101), (13.2, 99), (11.9, 94), (13.9, 93),
         (19.2, 90), (11.8, 86), (13.4, 87), (17.3, 82), (19.1, 64), (17.9, 74), (9.3, 76),
         (7.4, 64), (5.1, 47), (15.3, 24), (11.9, 12), (2, 3), (2.6, 0), (9, 6), (2.2, 5),
         (2.5, 12), (2.8, 8), (3, 18), (3, 3), (3.3, 12), (3.5, 24), (3.6, 6), (3.8, 16), (4, 28),
         (4, 10), (4.3, 20), (4.5, 32), (4.6, 4), (4.8, 14), (5, 24), (5, 36), (5.3, 8), (5.5, 18),
         (5.6, 30), (5.8, 42), (6, 12), (6, 24), (6.3, 34), (6.5, 46), (6.6, 18), (6.8, 6), (7, 28),
         (7, 40), (7.3, 52), (7.4, 14), (7.5, 22), (7.7, 34), (7.8, 46), (8, 58), (8, 10),
         (8.2, 26), (8.4, 38), (8.5, 50), (8.6, 18), (8.8, 62), (9, 30), (9, 42), (9.2, 54),
         (9.3, 14), (9.4, 22), (9.6, 36), (9.8, 48), (10, 60), (10, 70), (10.2, 28), (10.4, 42),
         (10.5, 54), (10.6, 18), (10.8, 66), (11, 34), (11, 48), (11.2, 58), (11.4, 24), (11.6, 72),
         (11.8, 40), (12, 52), (12, 64), (12.2, 30), (12.5, 46), (12.6, 58), (12.8, 70), (13, 36),
         (13.2, 50), (13.5, 62), (13.8, 28), (14, 44), (14, 56), (14.3, 68), (14.6, 38), (15, 50),
         (15, 62), (15.5, 44), (15.8, 56), (16.2, 48), (16, 66), (13.5, 78), (12.5, 80), (11, 76),
         (8.5, 70), (7, 64), (6, 55), (15.5, 32), (13, 20), (11, 12), (6.5, 2), (17, 72), (18, 70),
         (2.8, 14), (3.2, 20), (3.5, 10), (3.8, 26), (4, 16), (4.2, 32), (4.4, 24), (4.7, 10),
         (5, 30), (5.2, 20), (5.4, 40), (5.7, 24), (5.9, 34), (6.1, 18), (6.2, 44), (6.4, 28),
         (6.7, 38), (6.9, 22), (7.1, 48), (7.2, 32), (7.5, 42), (7.6, 16), (7.9, 52), (8, 36),
         (8.2, 46), (8.3, 22), (8.6, 56), (8.7, 34), (8.9, 44), (9.1, 26), (9.2, 60), (9.4, 40),
         (9.6, 52), (9.8, 32), (10, 46), (10.2, 64), (10.3, 38), (10.5, 58), (10.7, 44), (10.9, 30),
         (11.1, 54), (11.3, 64), (11.5, 48), (11.7, 36), (11.9, 60), (12.1, 44), (12.3, 70),
         (12.4, 54), (12.7, 40), (12.9, 64), (13.1, 56), (13.4, 46), (13.6, 70), (13.8, 54),
         (14.1, 62), (14.4, 48), (14.8, 58), (15.2, 66), (15.6, 52), (16.5, 58), (9, 20), (10, 22),
         (11, 22), (8, 16), (12, 34)]
D_DBH_CORE = [(3, 10), (3.4, 16), (3.7, 20), (4, 22), (4.3, 14), (4.5, 26), (4.8, 20), (5, 16),
              (5.2, 34), (5.5, 26), (5.8, 20), (6, 30), (6, 38), (6.3, 24), (6.6, 42), (6.8, 30),
              (7, 20), (7.2, 36), (7.5, 46), (7.7, 28), (8, 40), (8, 30), (8.3, 50), (8.5, 24),
              (8.6, 42), (8.9, 36), (9, 50), (9.3, 46), (9.5, 28), (9.7, 56), (9.9, 40),
              (10.1, 52), (10.3, 34), (10.5, 46), (10.8, 58), (11, 40), (11.2, 50), (11.5, 62),
              (11.7, 44), (12, 56), (12.2, 38), (12.5, 52), (12.7, 62), (13, 44), (13.2, 60),
              (13.5, 50), (13.8, 64), (14, 38), (14.3, 54), (14.6, 64), (15, 56), (10, 28),
              (8.8, 26), (7.8, 24), (6.6, 12), (12, 28)]

D_FRIC = [(9.4, 111), (13, 108), (7.4, 104), (11.3, 103), (14, 101), (7.9, 98), (9.7, 94),
          (12.4, 93), (9.2, 87), (12.3, 87), (17.7, 82), (1.2, 83), (0.15, 11), (0.8, 6), (3.1, 2),
          (24.2, 30), (22.3, 23), (20, 14), (1.2, 74), (0.3, 40), (0.3, 55), (0.5, 25), (0.8, 65),
          (1, 48), (1, 32), (1.5, 18), (1.5, 58), (2, 40), (2, 72), (2.5, 28), (2.5, 50), (3, 12),
          (3, 62), (3, 38), (3.5, 48), (3.5, 22), (4, 30), (4, 68), (4, 55), (4.5, 40), (4.5, 8),
          (5, 18), (5, 50), (5, 62), (5.5, 30), (5.5, 42), (6, 70), (6, 12), (6, 55), (6.5, 24),
          (6.5, 36), (7, 48), (7, 62), (7, 5), (7.5, 18), (7.5, 30), (8, 42), (8, 56), (8, 74),
          (8.5, 10), (8.5, 24), (9, 36), (9, 50), (9, 64), (9.5, 16), (9.5, 30), (10, 44), (10, 58),
          (10, 76), (10.5, 6), (10.5, 22), (11, 36), (11, 50), (11, 66), (11.5, 14), (11.5, 28),
          (12, 42), (12, 58), (12, 72), (12.5, 20), (12.5, 34), (13, 48), (13, 62), (13, 8),
          (13.5, 26), (13.5, 40), (14, 54), (14, 68), (14.5, 16), (14.5, 32), (15, 44), (15, 60),
          (15.5, 24), (15.5, 38), (16, 52), (16, 12), (16.5, 30), (16.5, 64), (17, 42), (17, 20),
          (17.5, 56), (17.5, 34), (18, 48), (18, 26), (18.5, 62), (18.5, 14), (19, 38), (19, 52),
          (19.5, 28), (20, 44), (20, 58), (20.5, 34), (21, 22), (21, 50), (22, 40), (22, 60),
          (23, 32), (23, 48), (24.5, 30), (1, 40), (1.5, 28), (2, 52), (2, 20), (2.5, 36),
          (2.5, 62), (3, 46), (3, 28), (3.5, 56), (3.5, 32), (4, 20), (4, 44), (4.5, 50), (4.5, 26),
          (5, 34), (5, 44), (5.5, 56), (5.5, 20), (6, 30), (6, 44), (6.5, 50), (6.5, 60), (7, 36),
          (7, 22), (7.5, 44), (7.5, 56), (8, 30), (8, 64), (8.5, 36), (8.5, 50), (9, 26), (9, 44),
          (9.5, 40), (9.5, 58), (10, 34), (10, 52), (10.5, 28), (10.5, 46), (10.5, 64), (11, 42),
          (11, 24), (11.5, 38), (11.5, 56), (12, 30), (12, 50), (12.5, 44), (12.5, 62), (13, 36),
          (13, 26), (13.5, 52), (13.5, 18), (14, 40), (14, 30), (14.5, 46), (14.5, 60), (15, 28),
          (15, 52), (15.5, 44), (15.5, 64), (16, 34), (16, 44), (16.5, 52), (16.5, 22), (17, 36),
          (17, 60), (17.5, 44), (17.5, 26), (18, 54), (18, 34), (18.5, 40), (19, 46), (19, 22),
          (19.5, 56), (19.5, 36), (20, 26), (20.5, 48), (21, 42), (21, 30), (22, 50), (3, 70),
          (9, 70), (11, 74), (14, 76), (5, 72), (7, 70), (16, 70)]
D_FRIC_CORE = [(1.5, 46), (2, 32), (2.5, 44), (3, 54), (3, 20), (3.5, 40), (4, 36), (4, 60),
               (4.5, 46), (5, 28), (5, 56), (5.5, 38), (5.5, 48), (6, 22), (6, 40), (6.5, 32),
               (6.5, 54), (7, 42), (7, 28), (7.5, 50), (7.5, 38), (8, 24), (8, 48), (8.5, 44),
               (8.5, 58), (9, 32), (9, 56), (9.5, 24), (9.5, 48), (10, 40), (10, 28), (10.5, 54),
               (10.5, 36), (11, 30), (11, 58), (11.5, 44), (11.5, 20), (12, 36), (12, 46),
               (12.5, 54), (12.5, 26), (13, 40), (13, 56), (13.5, 32), (13.5, 46), (14, 24),
               (14, 60), (14.5, 36), (14.5, 52), (15, 38), (15, 20), (15.5, 50), (16, 28), (16, 40),
               (16.5, 58), (17, 48), (17, 28), (17.5, 38), (18, 44), (18, 20), (18.5, 54), (19, 32),
               (19.5, 44), (20, 36), (20.5, 28), (21, 46), (8, 68), (12, 66), (6, 64)]

D_P = [(0.29, 106), (0.70, 110), (1.095, 101), (0.825, 104), (0.74, 100), (0.6, 96), (0.96, 90),
       (0.555, 86), (0.72, 89), (0.98, 84), (1.18, 73), (1.85, 56), (1.88, 43), (2.12, 20),
       (1.74, 8), (0.42, 72), (0.34, 66), (0.26, 56), (0.2, 35), (0.31, 6), (0.42, 6), (1.32, 11),
       (1.54, 10), (1.66, 16), (1.93, 28), (0.3, 48), (0.32, 30), (0.35, 18), (0.38, 40),
       (0.4, 58), (0.42, 28), (0.45, 45), (0.48, 12), (0.5, 35), (0.5, 60), (0.52, 22), (0.55, 50),
       (0.57, 38), (0.58, 8), (0.6, 28), (0.6, 66), (0.62, 44), (0.64, 16), (0.65, 55), (0.66, 34),
       (0.68, 24), (0.7, 72), (0.7, 46), (0.72, 10), (0.72, 60), (0.73, 36), (0.75, 26), (0.76, 52),
       (0.77, 16), (0.78, 68), (0.78, 42), (0.8, 32), (0.8, 80), (0.81, 58), (0.82, 22), (0.83, 48),
       (0.84, 8), (0.85, 38), (0.85, 70), (0.86, 28), (0.87, 60), (0.88, 18), (0.89, 50), (0.9, 40),
       (0.9, 76), (0.91, 30), (0.92, 62), (0.93, 12), (0.94, 46), (0.95, 22), (0.96, 56),
       (0.97, 36), (0.98, 28), (0.99, 66), (1.0, 44), (1.0, 16), (1.02, 54), (1.03, 34), (1.05, 24),
       (1.06, 44), (1.08, 60), (1.1, 14), (1.1, 36), (1.12, 28), (1.15, 48), (1.18, 22), (1.2, 40),
       (1.22, 32), (1.25, 50), (1.28, 26), (1.3, 40), (1.35, 32), (1.4, 24), (1.45, 38), (1.5, 30),
       (1.55, 20), (1.6, 28), (1.2, 12), (0.25, 40), (0.28, 22), (1.0, 6), (0.9, 4), (1.08, 4),
       (0.66, 44), (0.68, 56), (0.69, 30), (0.7, 38), (0.71, 22), (0.72, 50), (0.73, 64),
       (0.74, 28), (0.74, 44), (0.75, 36), (0.76, 60), (0.76, 18), (0.77, 50), (0.78, 30),
       (0.78, 56), (0.79, 40), (0.8, 24), (0.8, 66), (0.81, 46), (0.82, 34), (0.82, 74), (0.83, 56),
       (0.84, 28), (0.84, 42), (0.85, 62), (0.85, 18), (0.86, 50), (0.87, 36), (0.87, 72),
       (0.88, 44), (0.88, 26), (0.89, 56), (0.9, 32), (0.9, 64), (0.91, 46), (0.91, 20), (0.92, 38),
       (0.93, 54), (0.93, 28), (0.94, 66), (0.95, 40), (0.95, 14), (0.96, 48), (0.97, 30),
       (0.97, 60), (0.98, 42), (0.99, 20), (1.0, 34), (1.0, 54), (1.02, 44), (1.03, 26), (1.04, 62),
       (1.06, 34), (1.08, 48), (0.55, 30), (0.58, 44), (0.6, 52), (0.62, 34), (0.5, 44), (0.45, 22),
       (0.83, 82), (0.8, 86), (0.86, 78), (1.1, 56), (1.15, 32), (1.25, 42), (1.3, 30)]
D_P_CORE = [(0.68, 40), (0.7, 52), (0.7, 30), (0.72, 42), (0.72, 24), (0.73, 56), (0.74, 34),
            (0.75, 48), (0.76, 38), (0.76, 64), (0.77, 28), (0.78, 46), (0.78, 20), (0.79, 58),
            (0.8, 38), (0.8, 50), (0.81, 28), (0.81, 70), (0.82, 44), (0.82, 56), (0.83, 36),
            (0.83, 20), (0.84, 64), (0.84, 48), (0.85, 30), (0.85, 54), (0.86, 40), (0.86, 22),
            (0.87, 48), (0.87, 64), (0.88, 34), (0.88, 54), (0.89, 28), (0.89, 42), (0.9, 58),
            (0.9, 22), (0.91, 38), (0.91, 52), (0.92, 30), (0.92, 46), (0.93, 64), (0.93, 40),
            (0.94, 24), (0.94, 34), (0.95, 52), (0.96, 40), (0.96, 28), (0.97, 48), (0.98, 36),
            (0.98, 58), (0.99, 26), (1.0, 40), (1.01, 30), (1.02, 50), (0.66, 24), (0.64, 48),
            (0.62, 26), (0.8, 74), (0.85, 76), (0.9, 70)]

# fitted lines: (x0, x1, y0, y1); None = no line drawn
LINES = {
    "A": [(3, 23, 28, 46), (0.28, 0.79, 50, 21), (2.8, 19, 14, 73), (0.17, 1.0, 27, 37), None],
    "B": [(3, 32, 31, 41), None, (2, 19.3, 8, 77), (0, 24.5, 35, 40), (0.38, 2.13, 42, 27)],
    "C": [(3, 27, 31, 40), (0.35, 0.70, 43, 26), (2.7, 18.5, 10, 73), None, (0.3, 1.92, 40, 28)],
    "D": [(3, 32, 31, 42), (0.02, 0.80, 46, 28), (2, 19.3, 9, 77), (0, 24.5, 36, 40),
          (0.22, 2.13, 40, 31)],
}

ROW_TITLES = ["Coniferous stands", "Broadleaved stands", "Mixed stands", "Total stands"]
ROW_KEYS = ["A", "B", "C", "D"]
XLABELS = {
    "A": ["SR", "PSE", "DBH STD", "FDiv", "CWM LDMC (g)"],
    "B": ["SR", "SESMPD", "DBH STD", "FRic", r"CWM P (mg g$^{-1}$)"],
    "C": ["SR", "PSE", "DBH STD", "FDiv", r"CWM P (mg g$^{-1}$)"],
    "D": ["SR", "PSE", "DBH STD", "FRic", r"CWM P (mg g$^{-1}$)"],
}
DATA = {
    "A": [(A_SR,), (A_PSE,), (A_DBH,), (A_FDIV,), (A_LDMC,)],
    "B": [(B_SR, B_SR_CORE), (B_SES,), (B_DBH,), (B_FRIC,), (B_P,)],
    "C": [(C_SR, C_SR_CORE), (C_PSE,), (C_DBH,), (C_FDIV,), (C_P,)],
    "D": [(D_SR, D_SR_CORE), (D_PSE, D_PSE_CORE), (D_DBH, D_DBH_CORE), (D_FRIC, D_FRIC_CORE),
          (D_P, D_P_CORE)],
}


def frange(a, b, step):
    n = int(round((b - a) / step))
    return [a + i * step for i in range(n + 1)]


# axis setup per panel: (xlim, ticks, tick format)
AXES = {
    "A": [((0, 25), frange(0, 25, 5), "{:.0f}"), ((0.2, 0.9), frange(0.2, 0.9, 0.1), "{:.1f}"),
          ((2, 20), frange(2, 20, 2), "{:.0f}"), ((0, 1.2), frange(0, 1.2, 0.2), "{:.1f}"),
          ((0.1, 0.6), frange(0.1, 0.6, 0.1), "{:.1f}")],
    "B": [((0, 35), frange(0, 35, 5), "{:.0f}"), ((286, 296), frange(286, 296, 2), "{:.0f}"),
          ((0, 24), frange(0, 24, 4), "{:.0f}"), ((-4.5, 30), frange(0, 30, 5), "{:.0f}"),
          ((0, 2.4), frange(0, 2.4, 0.4), "{:.1f}")],
    "C": [((0, 30), frange(0, 30, 5), "{:.0f}"), ((0.3, 0.8), frange(0.3, 0.8, 0.1), "{:.1f}"),
          ((0, 20), frange(0, 20, 4), "{:.0f}"), ((0, 1.2), frange(0, 1.2, 0.2), "{:.1f}"),
          ((0, 2.0), frange(0, 2.0, 0.4), "{:.1f}")],
    "D": [((0, 35), frange(0, 35, 5), "{:.0f}"), ((-0.175, 1.0), frange(0, 1.0, 0.2), "{:.1f}"),
          ((0, 24), frange(0, 24, 4), "{:.0f}"), ((-4.5, 30), frange(0, 30, 5), "{:.0f}"),
          ((0, 2.4), frange(0, 2.4, 0.4), "{:.1f}")],
}

COLORS = {
    "A": ((0.0, 0.50, 0.0, 0.40), (0.0, 0.42, 0.0, 0.45)),
    "B": ((0.0, 1.0, 0.0, 0.40), (0.10, 0.45, 0.10, 0.50)),
    "C": ((0.55, 0.0, 0.0, 0.42), (0.45, 0.0, 0.0, 0.45)),
    "D": ((0.0, 0.0, 1.0, 0.36), (0.0, 0.0, 0.85, 0.38)),
}

# ---------------- layout (pixel positions measured on the 4317x3560 target) -------------
W, H = 4317, 3560
ROW_PX = [(35, 669), (925, 1562), (1885, 2499), (2758, 3389)]
COL1_LEFT = [281, 282, 306, 299]
COL_PX = [(None, 994), (1092, 1810), (1913, 2636), (2733, 3445), (3560, 4265)]
LETTER_TOP = [11, 812, 1797, 2646]

fig = plt.figure(figsize=(W / 300, H / 300), dpi=300)


def to_xy(sources):
    xs, ys = [], []
    for pts in sources:
        if isinstance(pts, dict):
            xs += [k for k, v in pts.items() for _ in v]
            ys += [y for v in pts.values() for y in v]
        else:
            xs += [p[0] for p in pts]
            ys += [p[1] for p in pts]
    return np.array(xs, float), np.array(ys, float)


for r, key in enumerate(ROW_KEYS):
    top, bot = ROW_PX[r]
    face, edge = COLORS[key]
    for c in range(5):
        left = COL1_LEFT[r] if c == 0 else COL_PX[c][0]
        right = COL_PX[c][1]
        ax = fig.add_axes([left / W, 1 - bot / H, (right - left) / W, (bot - top) / H])

        # faint frame around the panel
        fl = left - (110 if c == 0 else 30)
        fig.patches.append(Rectangle((fl / W, 1 - (bot + 180) / H), (right + 25 - fl) / W,
                                     (bot - top + 205) / H, transform=fig.transFigure,
                                     fill=False, ec="#eeeeee", lw=0.8, zorder=0))

        # fitted line sits underneath the points, as in the original
        ln = LINES[key][c]
        if ln is not None:
            ax.plot(ln[:2], ln[2:], color="black", lw=2.0, zorder=1)
        x, y = to_xy(DATA[key][c])
        ax.scatter(x, y, s=58, facecolors=[face], edgecolors=[edge], linewidths=0.6, zorder=2)

        xlim, ticks, fmt = AXES[key][c]
        ax.set_xlim(*xlim)
        ax.set_ylim(-18, 120)
        ax.set_xticks(ticks)
        ax.set_xticklabels([fmt.format(t) for t in ticks])
        for s in ("top", "right"):
            ax.spines[s].set_visible(False)
        ax.spines["left"].set_linewidth(1.0)
        ax.spines["bottom"].set_linewidth(1.8)
        ax.tick_params(axis="x", direction="out", length=3.5, width=1.0, pad=5, labelsize=9.5)
        if c == 0:
            ax.set_yticks([0, 20, 40, 60, 80, 100, 120])
            ax.tick_params(axis="y", direction="out", length=3.0, width=1.0, pad=1.5,
                           labelsize=9.5)
            ax.set_ylabel(r"AGB (Mg ha$^{-1}$)", fontsize=10.5, fontweight="bold", labelpad=8)
        else:
            ax.set_yticks([])
        ax.set_xlabel(XLABELS[key][c], fontsize=10.5, fontweight="bold", labelpad=9)

    fig.text(36 / W, 1 - (top + bot) / 2 / H, ROW_TITLES[r], rotation=90, ha="center",
             va="center", fontsize=15.5, fontweight="bold")
    fig.text(7 / W, 1 - LETTER_TOP[r] / H, key, ha="left", va="top", fontsize=17,
             fontweight="bold")

fig.savefig("out.png", dpi=300)
